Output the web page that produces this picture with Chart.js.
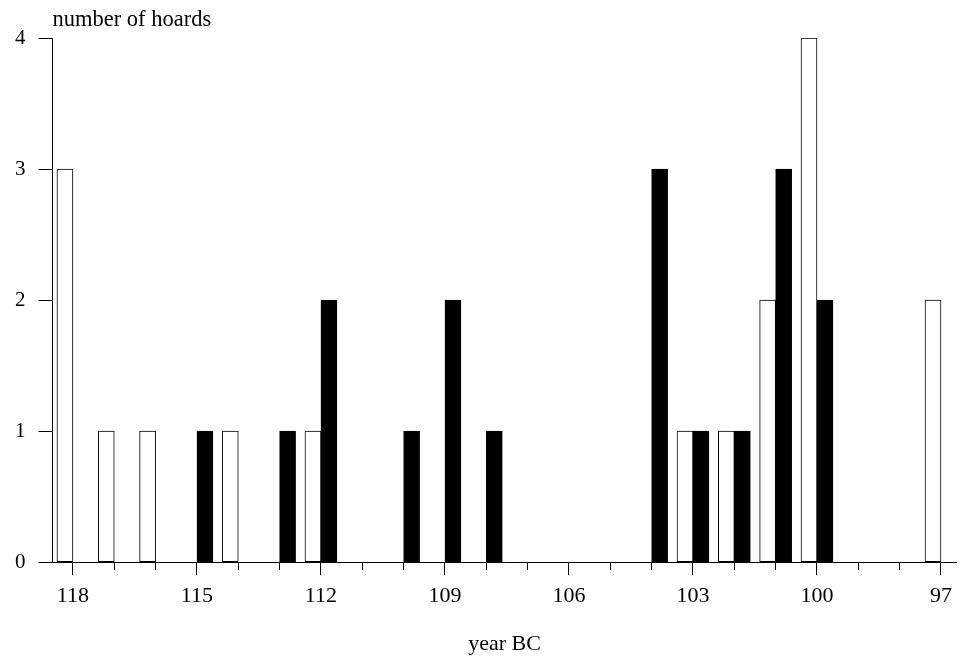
<!DOCTYPE html>
<html>
<head>
<meta charset="utf-8">
<script src="https://cdn.jsdelivr.net/npm/chart.js@4"></script>
<style>
  html, body { margin: 0; padding: 0; background: #fff; }
  #wrap { width: 960px; height: 657px; position: relative; }
  canvas { display: block; }
</style>
</head>
<body>
<div id="wrap"><canvas id="c" width="960" height="657"></canvas></div>
<script>
// Years BC (axis runs from 118 down to 97)
const years = [118,117,116,115,114,113,112,111,110,109,108,107,106,105,104,103,102,101,100,99,98,97];
// Open (white) bars, left of each year tick
const hoardsOpen = [3,1,1,0,1,0,1,0,0,0,0,0,0,0,0,1,1,2,4,0,0,2];
// Filled (black) bars, right of each year tick
const hoardsFilled = [0,0,0,1,0,1,2,0,1,2,1,0,0,0,3,1,1,3,2,0,0,0];
// Labelled years on the x axis
const labelledYears = [118,115,112,109,106,103,100,97];
const yTicks = [0,1,2,3,4];

const toPoints = arr => years.map((yr, i) => ({ x: yr, y: arr[i] > 0 ? arr[i] : null }));

const FONT = "'Liberation Serif', 'Times New Roman', serif";

const topLabel = {
  id: 'topLabel',
  afterDraw(chart) {
    const ctx = chart.ctx;
    ctx.save();
    ctx.font = "22.5px " + FONT;
    ctx.fillStyle = '#000';
    ctx.textAlign = 'left';
    ctx.textBaseline = 'alphabetic';
    ctx.fillText('number of hoards', chart.chartArea.left, 26);
    ctx.restore();
  }
};

new Chart(document.getElementById('c'), {
  type: 'bar',
  data: {
    datasets: [
      {
        label: 'open',
        data: toPoints(hoardsOpen),
        backgroundColor: '#ffffff',
        borderColor: '#000000',
        borderWidth: 1,
        borderSkipped: false,
        barThickness: 16
      },
      {
        label: 'filled',
        data: toPoints(hoardsFilled),
        backgroundColor: '#000000',
        borderColor: '#000000',
        borderWidth: 1,
        borderSkipped: false,
        barThickness: 16
      }
    ]
  },
  options: {
    responsive: false,
    animation: false,
    devicePixelRatio: 1,
    layout: { padding: { left: 2, top: 38, right: 0, bottom: 0 } },
    plugins: {
      legend: { display: false },
      tooltip: { enabled: false }
    },
    scales: {
      x: {
        type: 'linear',
        reverse: true,
        offset: false,
        min: 96.622,
        max: 118.494,
        afterBuildTicks(scale) {
          scale.ticks = years.map(v => ({ value: v }));
        },
        ticks: {
          autoSkip: false,
          maxRotation: 0,
          padding: 8,
          color: '#000',
          font: { family: FONT, size: 22 },
          callback(value) {
            return labelledYears.includes(value) ? String(value) : '';
          }
        },
        grid: {
          offset: false,
          drawOnChartArea: false,
          tickLength: 13,
          tickColor: '#000',
          tickWidth: 1,
          tickBorderDash(ctx) {
            const v = ctx.tick ? ctx.tick.value : null;
            return labelledYears.includes(v) ? [] : [7, 100];
          }
        },
        border: { display: true, color: '#000', width: 1 },
        title: {
          display: true,
          text: 'year BC',
          color: '#000',
          font: { family: FONT, size: 22 },
          padding: { top: 13, bottom: 0 }
        }
      },
      y: {
        min: 0,
        max: 4,
        afterBuildTicks(scale) {
          scale.ticks = yTicks.map(v => ({ value: v }));
        },
        ticks: {
          padding: 13,
          color: '#000',
          font: { family: FONT, size: 21 }
        },
        grid: {
          drawOnChartArea: false,
          tickLength: 14,
          tickColor: '#000',
          tickWidth: 1
        },
        border: { display: true, color: '#000', width: 1 }
      }
    }
  },
  plugins: [topLabel]
});
</script>
</body>
</html>
